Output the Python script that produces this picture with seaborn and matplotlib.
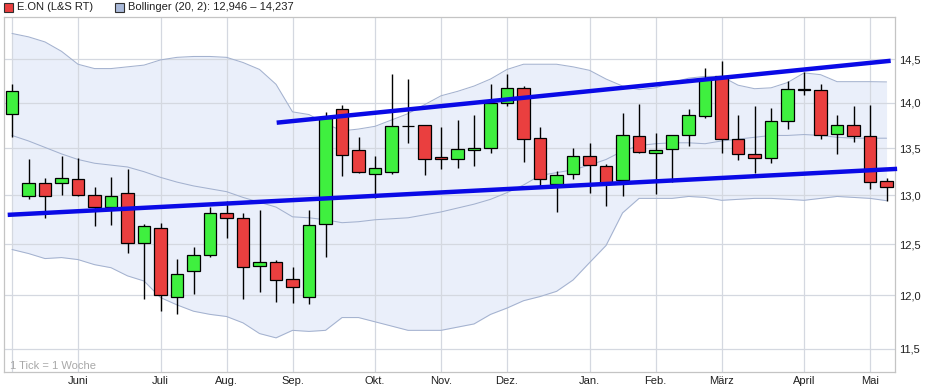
import matplotlib
matplotlib.use("Agg")
import matplotlib.pyplot as plt
import numpy as np
import pandas as pd
import seaborn as sns
from matplotlib.patches import Rectangle
from matplotlib.ticker import FixedLocator, FuncFormatter, NullLocator

# ── Weekly candles, E.ON (L&S RT) ────────────────────────────────────────────
OPEN = [13.88, 12.99, 13.13, 13.13, 13.17, 13.00, 12.88, 13.03, 12.51, 12.67,
        11.99, 12.24, 12.40, 12.82, 12.77, 12.29, 12.33, 12.16, 11.99, 12.71,
        13.93, 13.48, 13.23, 13.25, 13.74, 13.75, 13.41, 13.39, 13.48, 13.50,
        14.00, 14.17, 13.61, 13.12, 13.23, 13.42, 13.31, 13.16, 13.63, 13.45,
        13.49, 13.64, 13.85, 14.30, 13.60, 13.44, 13.40, 13.80, 14.16, 14.14,
        13.66, 13.75, 13.63, 13.15]
HIGH = [14.21, 13.38, 13.18, 13.42, 13.40, 13.09, 13.19, 13.28, 12.71, 12.72,
        12.36, 12.47, 12.88, 12.94, 12.82, 12.85, 12.35, 12.28, 12.85, 13.90,
        13.98, 13.62, 13.42, 14.33, 14.27, 13.76, 13.73, 13.81, 13.86, 14.21,
        14.33, 14.19, 13.73, 13.26, 13.50, 13.56, 13.33, 13.89, 13.99, 13.67,
        13.65, 13.93, 14.40, 14.48, 13.87, 13.96, 13.94, 14.25, 14.35, 14.21,
        13.87, 13.97, 13.98, 13.18]
LOW = [13.62, 12.96, 12.77, 13.01, 12.99, 12.69, 12.70, 12.42, 11.97, 11.85,
       11.82, 12.01, 12.38, 12.57, 11.97, 12.03, 11.94, 11.93, 11.92, 12.38,
       13.20, 13.24, 12.97, 13.23, 13.56, 13.21, 13.28, 13.29, 13.31, 13.45,
       13.97, 13.35, 13.10, 12.83, 13.17, 13.03, 12.89, 12.99, 13.45, 13.02,
       13.14, 13.53, 13.83, 13.45, 13.37, 13.24, 13.34, 13.71, 14.09, 13.60,
       13.44, 13.57, 13.07, 12.94]
CLOSE = [14.13, 13.13, 12.99, 13.18, 13.00, 12.88, 12.99, 12.51, 12.69, 12.00,
         12.21, 12.40, 12.82, 12.77, 12.28, 12.33, 12.15, 12.08, 12.70, 13.83,
         13.43, 13.25, 13.29, 13.74, 13.74, 13.39, 13.39, 13.49, 13.50, 14.00,
         14.17, 13.60, 13.17, 13.22, 13.42, 13.32, 13.13, 13.65, 13.46, 13.48,
         13.65, 13.86, 14.27, 13.60, 13.44, 13.40, 13.80, 14.16, 14.14, 13.64,
         13.75, 13.63, 13.14, 13.09]

# ── Bollinger (20, 2) ────────────────────────────────────────────────────────
BB_UPPER = [14.80, 14.76, 14.70, 14.59, 14.44, 14.39, 14.39, 14.41, 14.43, 14.49,
            14.52, 14.53, 14.53, 14.52, 14.46, 14.38, 14.21, 13.90, 13.87, 13.77,
            13.69, 13.71, 13.74, 13.81, 13.88, 13.98, 14.08, 14.13, 14.19, 14.27,
            14.38, 14.44, 14.44, 14.44, 14.41, 14.37, 14.27, 14.19, 14.15, 14.17,
            14.23, 14.28, 14.30, 14.30, 14.20, 14.16, 14.17, 14.23, 14.34, 14.32,
            14.24, 14.24, 14.24, 14.237]
BB_MIDDLE = [13.64, 13.58, 13.51, 13.44, 13.38, 13.34, 13.32, 13.30, 13.25, 13.19,
             13.14, 13.10, 13.07, 13.04, 12.98, 12.93, 12.88, 12.78, 12.77, 12.75,
             12.72, 12.73, 12.75, 12.76, 12.77, 12.80, 12.83, 12.87, 12.91, 12.96,
             13.03, 13.11, 13.21, 13.24, 13.27, 13.32, 13.38, 13.47, 13.53, 13.55,
             13.56, 13.56, 13.55, 13.58, 13.60, 13.62, 13.64, 13.64, 13.65, 13.64,
             13.62, 13.61, 13.61, 13.61]
BB_LOWER = [12.45, 12.41, 12.36, 12.37, 12.35, 12.30, 12.27, 12.19, 12.14, 11.98,
            11.91, 11.85, 11.82, 11.80, 11.74, 11.64, 11.60, 11.67, 11.66, 11.67,
            11.79, 11.79, 11.75, 11.71, 11.67, 11.67, 11.67, 11.70, 11.73, 11.82,
            11.88, 11.95, 11.99, 12.04, 12.15, 12.32, 12.49, 12.82, 12.97, 12.97,
            12.97, 12.99, 12.98, 12.95, 12.96, 12.97, 12.97, 12.96, 12.95, 12.97,
            12.99, 12.98, 12.97, 12.946]

# ── Trend lines drawn on the chart: (week, price) ────────────────────────────
TREND_LOW = [(-0.26, 12.80), (53.64, 13.28)]
TREND_HIGH = [(16.04, 13.78), (53.25, 14.48)]

# ── Axis labels ──────────────────────────────────────────────────────────────
MONTH_WEEKS = [0, 4, 9, 13, 17, 22, 26, 30, 35, 39, 43, 48, 52]
MONTH_LABELS = ["", "Juni", "Juli", "Aug.", "Sep.", "Okt.", "Nov.", "Dez.",
                "Jan.", "Feb.", "März", "April", "Mai"]
Y_TICKS = [11.5, 12.0, 12.5, 13.0, 13.5, 14.0, 14.5]

GREEN = "#3ff03f"
RED = "#ea3f3f"
BAND_FILL = "#eaeffa"
BAND_LINE = "#a4b2cf"
TREND = "#0a0ae6"
GRID = "#d4d8e0"

W, H = 927, 388

sns.set_style("white")
plt.rcParams["font.family"] = ["Liberation Sans", "DejaVu Sans"]

df = pd.DataFrame({
    "week": np.arange(len(OPEN)),
    "open": OPEN, "high": HIGH, "low": LOW, "close": CLOSE,
    "upper": BB_UPPER, "middle": BB_MIDDLE, "lower": BB_LOWER,
})

fig = plt.figure(figsize=(W / 100, H / 100), dpi=100)
ax = fig.add_axes([4 / W, 1 - 371.7 / H, (895.3 - 4) / W, (371.7 - 16.7) / H])
ax.set_yscale("log")

# Bollinger band (fill below the grid, lines above it)
ax.fill_between(df["week"], df["lower"], df["upper"], color=BAND_FILL, lw=0, zorder=0.2)
for col in ["upper", "middle", "lower"]:
    sns.lineplot(data=df, x="week", y=col, ax=ax, color=BAND_LINE, lw=0.75, zorder=2)

# candles
up = df["close"] >= df["open"]
body_lo = df[["open", "close"]].min(axis=1)
body_h = (df["close"] - df["open"]).abs()
ax.vlines(df["week"], df["low"], df["high"], color="black", lw=1.0, zorder=3)
ax.bar(df["week"], body_h, bottom=body_lo, width=0.74,
       color=np.where(up, GREEN, RED), edgecolor="black", lw=0.9, zorder=4)

# trend lines
for line in (TREND_LOW, TREND_HIGH):
    xs, ys = zip(*line)
    ax.plot(xs, ys, color=TREND, lw=3.2, solid_capstyle="butt", zorder=6, clip_on=False)

ax.set_xlim(-0.485, 53.53)
ax.set_ylim(11.29, 15.0)
ax.set_xlabel("")
ax.set_ylabel("")

ax.xaxis.set_major_locator(FixedLocator(MONTH_WEEKS))
ax.set_xticklabels(MONTH_LABELS)
ax.yaxis.set_major_locator(FixedLocator(Y_TICKS))
ax.yaxis.set_minor_locator(NullLocator())
ax.yaxis.set_major_formatter(FuncFormatter(lambda v, _: f"{v:.1f}".replace(".", ",")))
ax.yaxis.tick_right()
ax.tick_params(axis="both", length=0, labelsize=8, colors="#202020")
ax.tick_params(axis="x", pad=3)
ax.tick_params(axis="y", pad=3)
ax.set_axisbelow(True)
ax.grid(True, color=GRID, lw=0.9)
for s in ax.spines.values():
    s.set_color("#c4c4c4")
    s.set_linewidth(0.9)

ax.text(10 / W, 1 - 366 / H, "1 Tick = 1 Woche", transform=fig.transFigure,
        color="#a8a8a8", fontsize=8, va="center", ha="left")

# legend row
for x0, fc, label in [(4, RED, "E.ON (L&S RT)"),
                      (115, "#a9b9d9", "Bollinger (20, 2): 12,946 \u2013 14,237")]:
    fig.add_artist(Rectangle((x0 / W, 1 - 12 / H), 9 / W, 9 / H, transform=fig.transFigure,
                             facecolor=fc, edgecolor="#303030", lw=0.8))
    fig.text((x0 + 13) / W, 1 - 7.5 / H, label, fontsize=8, va="center", ha="left",
             color="#202020")

fig.savefig("out.png", dpi=100)
